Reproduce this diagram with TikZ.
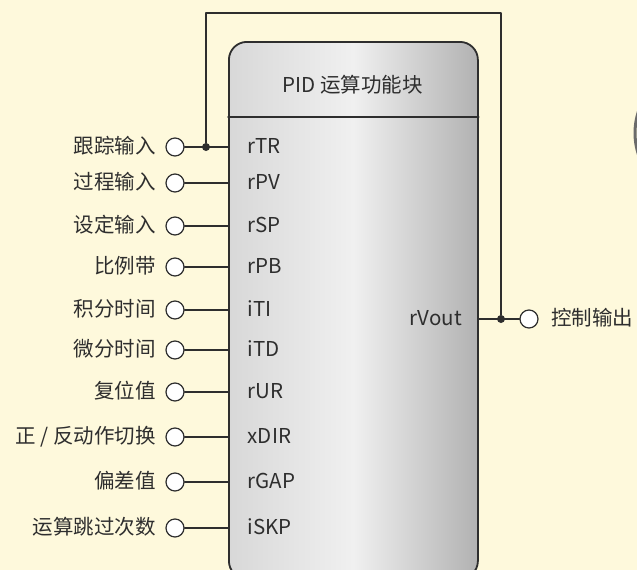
\documentclass[tikz,border=0pt]{standalone}
\usepackage{fontspec}
\setmainfont{Noto Sans CJK SC}
\usetikzlibrary{positioning,calc}
\definecolor{bg}{HTML}{FEF9DC}
\definecolor{ink}{HTML}{2E2E2E}
\definecolor{blkL}{HTML}{D8D8D8}
\definecolor{blkM}{HTML}{F0F0F0}
\definecolor{blkR}{HTML}{B2B2B2}
\begin{document}
\begin{tikzpicture}[x=1pt,y=-1pt,line join=round,line cap=round,
	txt/.style={text=ink,font=\fontsize{20.5}{24}\selectfont,inner sep=0pt},
	pin/.style={circle,draw=ink,fill=white,line width=1.2pt,minimum size=18pt,inner sep=0pt},
	dot/.style={circle,fill=ink,minimum size=8pt,inner sep=0pt},
	wire/.style={draw=ink,line width=1.4pt}]
	\fill[bg,use as bounding box] (0,0) rectangle (637,570);
	\draw[draw=black!58,line width=3pt] (703,133) circle (68);
	% function block
	\node[draw=ink,line width=1.8pt,rounded corners=18pt,anchor=north west,
		minimum width=249pt,minimum height=537pt,
		left color=blkL,right color=blkR,middle color=blkM] (blk) at (228,41) {};
	\draw[wire] ($(blk.north west)+(0,76)$) -- ($(blk.north east)+(0,76)$);
	\node[txt] (title) at (352.5,85) {PID 运算功能块};
	% inputs
	\foreach \y/\lab/\pn [count=\i] in {147/跟踪输入/rTR,183/过程输入/rPV,226/设定输入/rSP,
		267/比例带/rPB,310/积分时间/iTI,350/微分时间/iTD,392/复位值/rUR,
		437/{正 / 反动作切换}/xDIR,482/偏差值/rGAP,528/运算跳过次数/iSKP}{
		\node[pin] (c\i) at (175,\y) {};
		\node[txt,anchor=base east] (l\i) at (156,\y+6) {\lab};
		\node[txt,anchor=base west] (p\i) at (247.5,\y+6) {\pn};
		\draw[wire] (c\i) -- (c\i -| blk.west);
	}
	% output and tracking loop
	\node[pin] (cout) at (529,319) {};
	\node[txt,anchor=base east] (pout) at (462,325) {rVout};
	\node[txt,anchor=base west] (lout) at (551,325) {控制输出};
	\draw[wire] (blk.east |- cout) -- (cout);
	\node[dot] (dout) at (501,319) {};
	\node[dot] (din) at (206,147) {};
	\coordinate (top) at (0,13);
	\draw[wire] (din) -- (din |- top) -- (dout |- top) -- (dout);
\end{tikzpicture}
\end{document}
